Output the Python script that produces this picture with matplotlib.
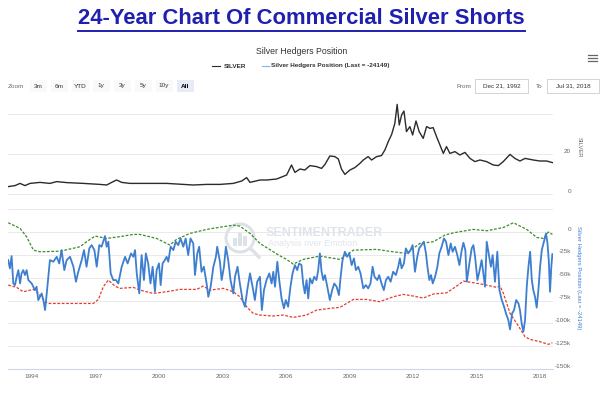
import matplotlib
matplotlib.use('Agg')
import matplotlib.pyplot as plt
from matplotlib.patches import Rectangle, Ellipse
from matplotlib.lines import Line2D
from matplotlib.transforms import offset_copy

plt.rcParams['font.family'] = ['Liberation Sans', 'DejaVu Sans']

W, H = 600, 396

# silver price (USD)
silver_year = [1992.88, 1993.20, 1993.44, 1993.67, 1993.91, 1994.38, 1994.85, 1995.17, 1995.64,
               1996.43, 1997.21, 1997.53, 1997.84, 1998.00, 1998.24, 1998.63, 1999.58, 2000.36,
               2001.15, 2001.62, 2002.25, 2002.88, 2003.51, 2003.91, 2004.14, 2004.30, 2004.77,
               2005.09, 2005.56, 2006.03, 2006.26, 2006.42, 2006.66, 2006.89, 2007.13, 2007.44,
               2007.68, 2007.84, 2008.07, 2008.31, 2008.47, 2008.62, 2008.78, 2009.02, 2009.25,
               2009.49, 2009.65, 2009.88, 2010.04, 2010.28, 2010.51, 2010.67, 2010.83, 2010.99,
               2011.14, 2011.25, 2011.35, 2011.46, 2011.57, 2011.69, 2011.85, 2011.98, 2012.14,
               2012.29, 2012.48, 2012.64, 2012.80, 2012.95, 2013.11, 2013.27, 2013.43, 2013.58,
               2013.74, 2013.98, 2014.21, 2014.45, 2014.69, 2014.92, 2015.16, 2015.47, 2015.79,
               2016.03, 2016.26, 2016.58, 2016.81, 2017.05, 2017.29, 2017.68, 2017.99, 2018.31,
               2018.58]
silver_price = [3.7, 4.2, 5.3, 4.2, 5.3, 5.8, 5.3, 6.2, 5.7,
                5.3, 4.8, 4.5, 6.2, 7.0, 5.8, 5.3, 5.3, 5.3,
                4.8, 4.5, 4.8, 4.8, 5.3, 6.5, 8.2, 5.8, 7.0,
                7.0, 7.5, 9.5, 14.5, 10.8, 12.5, 12.0, 14.2, 13.7,
                12.8, 14.8, 19.0, 18.7, 17.5, 12.5, 9.8, 12.0, 13.2,
                15.3, 17.0, 18.7, 17.0, 18.7, 19.2, 22.0, 26.2, 29.8,
                35.3, 44.8, 34.5, 39.5, 41.5, 31.2, 33.7, 29.5, 36.5,
                31.2, 27.8, 33.7, 32.8, 33.2, 28.7, 24.5, 20.3, 23.7,
                20.3, 21.2, 19.5, 20.8, 17.8, 16.2, 17.0, 16.2, 14.5,
                14.2, 16.2, 19.8, 17.8, 16.5, 17.8, 17.0, 16.5, 16.5,
                15.7]

# commercial hedgers net position (thousands of contracts)
hedgers_year = [1992.88, 1992.96, 1993.04, 1993.12, 1993.20, 1993.28, 1993.36, 1993.44, 1993.51,
                1993.59, 1993.67, 1993.75, 1993.83, 1993.99, 1994.14, 1994.22, 1994.30, 1994.46,
                1994.54, 1994.62, 1994.70, 1994.85, 1995.01, 1995.17, 1995.29, 1995.40, 1995.53,
                1995.64, 1995.80, 1995.96, 1996.08, 1996.19, 1996.35, 1996.46, 1996.58, 1996.71,
                1996.82, 1996.95, 1997.06, 1997.18, 1997.29, 1997.45, 1997.53, 1997.61, 1997.72,
                1997.84, 1997.97, 1998.08, 1998.24, 1998.40, 1998.52, 1998.68, 1998.79, 1998.87,
                1998.95, 1999.07, 1999.18, 1999.29, 1999.38, 1999.49, 1999.60, 1999.70, 1999.81,
                1999.89, 2000.00, 2000.08, 2000.17, 2000.28, 2000.36, 2000.44, 2000.55, 2000.68,
                2000.79, 2000.91, 2001.02, 2001.15, 2001.26, 2001.38, 2001.49, 2001.62, 2001.70,
                2001.81, 2001.90, 2002.01, 2002.12, 2002.25, 2002.33, 2002.44, 2002.57, 2002.69,
                2002.75, 2002.88, 2002.96, 2003.07, 2003.16, 2003.27, 2003.38, 2003.51, 2003.59,
                2003.71, 2003.82, 2003.95, 2004.06, 2004.17, 2004.30, 2004.42, 2004.53, 2004.64,
                2004.77, 2004.86, 2004.96, 2005.08, 2005.21, 2005.32, 2005.40, 2005.48, 2005.59,
                2005.68, 2005.79, 2005.90, 2005.99, 2006.10, 2006.21, 2006.31, 2006.42, 2006.53,
                2006.62, 2006.73, 2006.81, 2006.89, 2006.97, 2007.05, 2007.13, 2007.24, 2007.33,
                2007.44, 2007.52, 2007.60, 2007.68, 2007.76, 2007.84, 2007.95, 2008.07, 2008.18,
                2008.28, 2008.39, 2008.50, 2008.58, 2008.67, 2008.78, 2008.89, 2008.99, 2009.10,
                2009.21, 2009.30, 2009.41, 2009.52, 2009.65, 2009.77, 2009.88, 2009.99, 2010.09,
                2010.18, 2010.31, 2010.40, 2010.51, 2010.62, 2010.72, 2010.83, 2010.94, 2011.06,
                2011.19, 2011.30, 2011.38, 2011.46, 2011.57, 2011.66, 2011.77, 2011.88, 2011.98,
                2012.09, 2012.20, 2012.29, 2012.40, 2012.51, 2012.61, 2012.68, 2012.77, 2012.85,
                2012.93, 2013.04, 2013.15, 2013.24, 2013.35, 2013.46, 2013.56, 2013.67, 2013.78,
                2013.87, 2013.98, 2014.09, 2014.19, 2014.30, 2014.38, 2014.47, 2014.54, 2014.66,
                2014.77, 2014.85, 2014.93, 2015.04, 2015.13, 2015.24, 2015.32, 2015.40, 2015.48,
                2015.61, 2015.68, 2015.76, 2015.87, 2015.98, 2016.08, 2016.19, 2016.30, 2016.39,
                2016.50, 2016.58, 2016.68, 2016.77, 2016.87, 2016.98, 2017.05, 2017.13, 2017.21,
                2017.29, 2017.37, 2017.45, 2017.53, 2017.61, 2017.68, 2017.76, 2017.84, 2017.92,
                2018.00, 2018.08, 2018.16, 2018.24, 2018.28, 2018.35, 2018.41, 2018.47, 2018.53,
                2018.58]
hedgers_k = [-30.7, -39.8, -26.3, -56.3, -58.1, -49.0, -41.7, -56.3, -45.3,
             -41.7, -47.1, -41.7, -52.6, -56.3, -63.6, -59.9, -74.5, -67.2,
             -74.5, -85.5, -67.2, -30.7, -32.5, -27.1, -34.4, -19.8, -41.7,
             -30.7, -27.1, -38.0, -54.4, -43.5, -30.7, -19.8, -38.0, -17.9,
             -14.3, -19.8, -38.0, -14.3, -16.1, -4.4, -16.1, -10.6, -45.3,
             -52.6, -52.6, -56.3, -38.0, -27.1, -34.4, -23.4, -27.1, -19.8,
             -45.3, -67.2, -25.2, -52.6, -23.4, -34.4, -56.3, -38.0, -65.4,
             -41.7, -34.4, -58.1, -34.4, -30.7, -27.1, -32.5, -16.1, -19.8,
             -10.6, -14.3, -7.0, -16.1, -7.0, -25.2, -7.0, -12.5, -47.1,
             -23.4, -16.1, -43.5, -38.0, -56.3, -70.9, -59.9, -38.0, -27.1,
             -16.1, -32.5, -52.6, -38.0, -16.1, -30.7, -52.6, -67.2, -49.0,
             -38.0, -56.3, -74.5, -81.8, -63.6, -45.3, -59.9, -74.5, -54.4,
             -49.0, -85.5, -63.6, -52.6, -45.3, -56.3, -43.5, -59.9, -32.5,
             -52.6, -72.7, -83.6, -74.5, -81.8, -59.9, -45.3, -36.2, -41.7,
             -34.4, -36.2, -56.3, -67.2, -52.6, -72.7, -50.8, -56.3, -49.0,
             -52.6, -41.7, -23.4, -43.5, -52.6, -47.1, -59.9, -74.5, -63.6,
             -56.3, -59.9, -69.0, -49.0, -30.7, -21.6, -27.1, -23.4, -36.2,
             -28.9, -41.7, -38.0, -45.3, -61.7, -58.1, -61.7, -56.3, -38.0,
             -49.0, -52.6, -47.1, -56.3, -63.6, -52.6, -49.0, -54.4, -43.5,
             -47.1, -38.0, -28.9, -39.8, -34.4, -17.9, -23.4, -19.8, -14.3,
             -43.5, -27.1, -17.9, -14.3, -10.6, -23.4, -38.0, -52.6, -47.1,
             -56.3, -49.0, -38.0, -23.4, -16.1, -7.0, -10.6, -25.2, -12.5,
             -21.6, -16.1, -25.2, -36.2, -19.8, -11.7, -19.8, -54.4, -34.4,
             -17.9, -14.3, -27.1, -52.6, -43.5, -30.7, -45.3, -59.9, -10.6,
             -28.9, -38.0, -25.2, -54.4, -21.6, -63.6, -74.5, -81.8, -89.1,
             -96.4, -106.6, -89.1, -85.5, -74.5, -78.2, -85.5, -100.1, -109.2,
             -96.4, -59.9, -38.0, -21.6, -52.6, -63.6, -70.9, -82.8, -63.6,
             -38.0, -19.8, -12.5, -5.2, -1.5, -12.5, -30.7, -65.4, -38.0,
             -24.149]

# upper (green) and lower (red) dashed bands, thousands of contracts
upper_year = [1992.88, 1993.44, 1993.75, 1994.07, 1994.38, 1995.33, 1996.27, 1996.58, 1996.98,
              1997.53, 1998.16, 1998.79, 1999.10, 1999.89, 2000.52, 2000.83, 2001.46, 2002.25,
              2003.51, 2003.82, 2004.30, 2004.77, 2005.40, 2005.71, 2006.03, 2006.34, 2006.81,
              2007.60, 2008.55, 2009.18, 2010.28, 2011.06, 2011.69, 2012.32, 2012.96, 2013.51,
              2013.91, 2014.85, 2015.48, 2016.27, 2016.74, 2017.37, 2017.84, 2018.16, 2018.39,
              2018.58]
upper_k = [10.2, 4.0, -5.2, -19.8, -21.6, -21.0, -16.1, -10.6, -4.4,
           -7.0, -5.0, -2.6, -2.6, -7.0, -14.3, -8.0, -1.5, 2.9,
           7.6, 6.5, -1.5, -12.5, -21.6, -26.0, -30.0, -35.1, -30.0,
           -26.3, -30.0, -19.8, -19.0, -21.6, -23.4, -12.5, -10.6, -3.3,
           -0.8, 2.9, 1.4, 5.0, 10.2, 2.9, -5.9, -7.0, 0.0,
           -2.6]

lower_year = [1992.88, 1993.28, 1993.59, 1994.07, 1994.30, 1994.62, 1994.77, 1996.90, 1997.14,
              1997.37, 1997.61, 1997.92, 1998.16, 1998.79, 1999.10, 1999.73, 2000.36, 2000.99,
              2001.78, 2002.09, 2002.41, 2003.04, 2003.51, 2003.82, 2004.14, 2004.45, 2004.77,
              2005.40, 2005.87, 2006.34, 2006.97, 2007.44, 2008.07, 2008.55, 2008.86, 2009.18,
              2009.81, 2010.43, 2011.06, 2011.54, 2012.01, 2012.48, 2012.96, 2013.59, 2014.06,
              2014.38, 2014.85, 2015.48, 2015.95, 2016.11, 2016.27, 2016.58, 2016.90, 2017.29,
              2017.53, 2018.00, 2018.39, 2018.58]
lower_k = [-58.1, -60.6, -65.4, -62.8, -67.2, -76.3, -78.2, -78.2, -73.8,
           -59.9, -52.6, -59.2, -61.7, -60.6, -63.6, -67.2, -65.4, -62.8,
           -62.8, -59.2, -63.6, -61.7, -65.4, -70.9, -81.8, -89.1, -90.9,
           -92.0, -90.9, -93.5, -90.9, -85.5, -83.6, -82.5, -78.2, -73.8,
           -73.8, -76.3, -70.9, -68.3, -70.1, -72.3, -67.9, -66.5, -59.2,
           -53.7, -55.5, -58.1, -60.6, -59.2, -67.2, -89.1, -100.1, -114.7,
           -117.6, -120.1, -123.0, -121.2]

year_ticks = [1994, 1997, 2000, 2003, 2006, 2009, 2012, 2015, 2018]
silver_ticks = [0, 20, 40]
silver_tick_labels = ['0', '20', '']
hedger_ticks = [25, 0, -25, -50, -75, -100, -125, -150]
hedger_tick_labels = ['', '0', '-25k', '-50k', '-75k', '-100k', '-125k', '-150k']


def fx(x):
    return x / W


def fy(y):
    return 1 - y / H


fig = plt.figure(figsize=(6, 3.96), dpi=100)

ax1 = fig.add_axes([fx(8), fy(196), 545 / W, 98 / H])
ax2 = fig.add_axes([fx(8), fy(369), 545 / W, 169 / H])

for ax in (ax1, ax2):
    ax.set_xlim(1992.87, 2018.61)
    for s in ax.spines.values():
        s.set_visible(False)
    ax.tick_params(axis='y', length=0, labelleft=False, labelright=False)
    ax.set_axisbelow(True)

grid_kw = dict(color='#e6e6e6', lw=0.6, zorder=0)

# top panel: silver
ax1.set_ylim(-1, 48)
ax1.set_xticks([])
for v in silver_ticks:
    ax1.axhline(v, **grid_kw)
ax1.plot(silver_year, silver_price, color='#2b2b2b', lw=1.0, zorder=3)

# bottom panel: hedgers
ax2.set_ylim(-150, 35.1)
for v in hedger_ticks[:-1]:
    ax2.axhline(v, **grid_kw)
ax2.spines['bottom'].set_visible(True)
ax2.spines['bottom'].set_color('#ccd6eb')
ax2.spines['bottom'].set_linewidth(0.8)
ax2.set_xticks(year_ticks)
ax2.set_xticklabels([str(y) for y in year_ticks])
ax2.tick_params(axis='x', length=0, pad=3.5, labelsize=4.6, labelcolor='#666666')

ax2.plot(lower_year, lower_k, color='#e33b30', lw=0.9, ls=(0, (2.2, 1.3)), zorder=3)
ax2.plot(upper_year, upper_k, color='#3a8c2b', lw=0.9, ls=(0, (2.2, 1.3)), zorder=3)
ax2.plot(hedgers_year, hedgers_k, color='#3e7ecf', lw=1.3, zorder=4)

# right-hand tick labels, a little above each grid line
for ax, ticks, labels in ((ax1, silver_ticks, silver_tick_labels),
                          (ax2, hedger_ticks, hedger_tick_labels)):
    tr = offset_copy(ax.get_yaxis_transform(), fig=fig, x=18, y=3, units='dots')
    for v, lab in zip(ticks, labels):
        ax.text(1, v, lab, transform=tr, ha='right', va='center',
                fontsize=4.6, color='#666666', clip_on=False)

# axis titles on the right
fig.text(fx(579), fy(147), 'SILVER', rotation=-90, ha='center', va='center',
         fontsize=4.2, color='#666666')
fig.text(fx(579), fy(278), 'Silver Hedgers Position (Last = -24149)', rotation=-90,
         ha='center', va='center', fontsize=4.2, color='#3e7ecf')

# watermark
ax2.text(fx(266), fy(233), 'SENTIMENTRADER', transform=fig.transFigure, ha='left',
         va='center', fontsize=9, fontweight='bold', color='#e0e4ea', zorder=1)
ax2.text(fx(268), fy(244), 'Analysis over Emotion', transform=fig.transFigure, ha='left',
         va='center', fontsize=6.5, color='#e0e4ea', zorder=1)
ring = Ellipse((fx(240), fy(238)), 28 / W, 28 / H, transform=fig.transFigure,
               fill=False, ec='#dde2e8', lw=2.2, zorder=1, clip_on=False)
ax2.add_patch(ring)
for bx, bh in ((233, 8), (238, 13), (243, 10)):
    ax2.add_patch(Rectangle((fx(bx), fy(246)), 3.5 / W, bh / H, transform=fig.transFigure,
                            fc='#dde2e8', ec='none', zorder=1, clip_on=False))
ax2.add_artist(Line2D([fx(251), fx(259)], [fy(249), fy(257)], transform=fig.transFigure,
                      color='#dde2e8', lw=2.5, zorder=1))

# title with underline
title = fig.text(0.503, fy(19), '24-Year Chart Of Commercial Silver Shorts', ha='center',
                 va='center', fontsize=15.8, fontweight='bold', color='#1f1fb0')
fig.canvas.draw()
bb = title.get_window_extent()
fig.add_artist(Line2D([bb.x0 / W, bb.x1 / W], [bb.y0 / H - 1.5 / H] * 2,
                      transform=fig.transFigure, color='#1f1fb0', lw=1.4))

fig.text(0.503, fy(51), 'Silver Hedgers Position', ha='center', va='center',
         fontsize=6.3, color='#333333')

# legend row
fig.add_artist(Line2D([fx(212), fx(220)], [fy(66)] * 2, transform=fig.transFigure,
                      color='#2b2b2b', lw=0.8))
fig.text(fx(224), fy(66), 'SILVER', ha='left', va='center', fontsize=4.6,
         fontweight='bold', color='#333333')
fig.add_artist(Line2D([fx(262), fx(269)], [fy(66)] * 2, transform=fig.transFigure,
                      color='#7cb5ec', lw=0.8))
fig.text(fx(271), fy(66), 'Silver Hedgers Position (Last = -24149)', ha='left',
         va='center', fontsize=4.6, fontweight='bold', color='#333333')

# hamburger menu
for dy in (-3, 0, 3):
    fig.add_artist(Line2D([fx(588), fx(597)], [fy(58 + dy)] * 2, transform=fig.transFigure,
                          color='#666666', lw=0.9))

# range selector
fig.text(fx(8), fy(86), 'Zoom', ha='left', va='center', fontsize=4.6, color='#666666')
buttons = ['3m', '6m', 'YTD', '1y', '3y', '5y', '10y', 'All']
for i, b in enumerate(buttons):
    cx = 38 + 21 * i
    sel = b == 'All'
    fig.add_artist(Rectangle((fx(cx - 8.5), fy(92)), 17 / W, 12 / H, transform=fig.transFigure,
                             fc='#e6ebf5' if sel else '#f9f9f9', ec='none'))
    fig.text(fx(cx), fy(86), b, ha='center', va='center', fontsize=4.6,
             color='#000000' if sel else '#333333', fontweight='bold' if sel else 'normal')

fig.text(fx(471), fy(86), 'From', ha='right', va='center', fontsize=4.6, color='#666666')
fig.add_artist(Rectangle((fx(475), fy(93)), 53 / W, 14 / H, transform=fig.transFigure,
                         fc='white', ec='#cccccc', lw=0.6))
fig.text(fx(501.5), fy(86), 'Dec 21, 1992', ha='center', va='center', fontsize=4.6,
         color='#333333')
fig.text(fx(543), fy(86), 'To', ha='right', va='center', fontsize=4.6, color='#666666')
fig.add_artist(Rectangle((fx(547), fy(93)), 52 / W, 14 / H, transform=fig.transFigure,
                         fc='white', ec='#cccccc', lw=0.6))
fig.text(fx(573), fy(86), 'Jul 31, 2018', ha='center', va='center', fontsize=4.6,
         color='#333333')

fig.savefig('out.png', dpi=100)
